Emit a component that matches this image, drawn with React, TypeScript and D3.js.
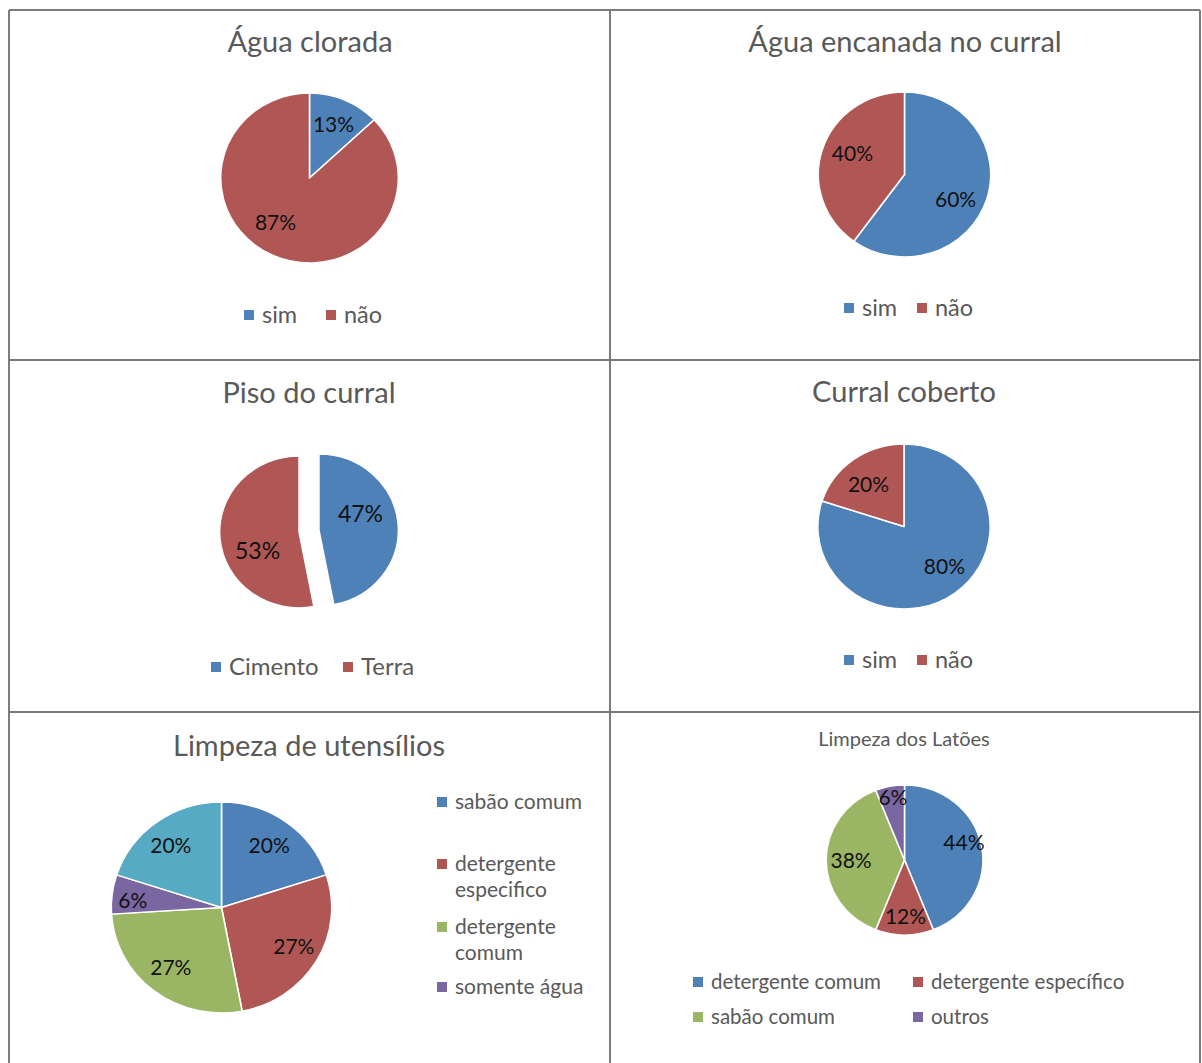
import React from "react";
import * as d3 from "d3";

// ---------- DATA ----------
const aguaCloradaCats = ["sim", "não"];
const aguaCloradaVals = [13, 87];

const aguaEncanadaCats = ["sim", "não"];
const aguaEncanadaVals = [60, 40];

const pisoCats = ["Cimento", "Terra"];
const pisoVals = [47, 53];

const curralCobertoCats = ["sim", "não"];
const curralCobertoVals = [80, 20];

const utensiliosCats = ["sabão comum", "detergente especifico", "detergente comum", "somente água", "outros"];
const utensiliosVals = [20, 27, 27, 6, 20];

const latoesCats = ["detergente comum", "detergente específico", "sabão comum", "outros"];
const latoesVals = [44, 12, 38, 6];

const titles = [
  "Água clorada",
  "Água encanada no curral",
  "Piso do curral",
  "Curral coberto",
  "Limpeza de utensílios",
  "Limpeza dos Latões",
];

// ---------- STYLE ----------
const BLUE = "#4f81b9";
const RED = "#b05755";
const GREEN = "#9ab664";
const PURPLE = "#7a66a0";
const TEAL = "#56aac4";
const FONT = "Lato, 'Open Sans', sans-serif";
const TITLE_COLOR = "#595959";
const LEGEND_COLOR = "#595959";
const SX = 1.045; // horizontal stretch of the original

type Panel = {
  title: string;
  titleX: number;
  titleY: number;
  titleSize: number;
  cats: string[];
  vals: number[];
  colors: string[];
  cx: number;
  cy: number;
  r: number;
  labelF: number;
  labelSize: number;
  nudge: [number, number][];
  explode?: number;
  legend: { x: number; y: number; wrap?: boolean }[];
  legendText: number;
};

const panels: Panel[] = [
  {
    title: titles[0], titleX: 310, titleY: 52, titleSize: 29,
    cats: aguaCloradaCats, vals: aguaCloradaVals, colors: [BLUE, RED],
    cx: 309.5, cy: 178, r: 85, labelF: 0.68, labelSize: 21,
    nudge: [[0, 0], [-10, -8]],
    legend: [{ x: 244, y: 315 }, { x: 326, y: 315 }], legendText: 23.5,
  },
  {
    title: titles[1], titleX: 905, titleY: 52, titleSize: 29,
    cats: aguaEncanadaCats, vals: aguaEncanadaVals, colors: [BLUE, RED],
    cx: 904.5, cy: 174.5, r: 82.5, labelF: 0.66, labelSize: 21,
    nudge: [[-3, 8], [2, -4]],
    legend: [{ x: 844, y: 308 }, { x: 917, y: 308 }], legendText: 23.5,
  },
  {
    title: titles[2], titleX: 309, titleY: 403, titleSize: 29,
    cats: pisoCats, vals: pisoVals, colors: [BLUE, RED],
    cx: 309, cy: 531, r: 76, labelF: 0.55, labelSize: 23, explode: 10,
    nudge: [[-2, -12], [2, 15]],
    legend: [{ x: 211, y: 667 }, { x: 343, y: 667 }], legendText: 24,
  },
  {
    title: titles[3], titleX: 904, titleY: 402, titleSize: 29,
    cats: curralCobertoCats, vals: curralCobertoVals, colors: [BLUE, RED],
    cx: 904, cy: 526.5, r: 82.5, labelF: 0.68, labelSize: 21,
    nudge: [[6, -5], [-1, 4]],
    legend: [{ x: 844, y: 660 }, { x: 917, y: 660 }], legendText: 23.5,
  },
  {
    title: titles[4], titleX: 309, titleY: 756, titleSize: 29,
    cats: utensiliosCats, vals: utensiliosVals, colors: [BLUE, RED, GREEN, PURPLE, TEAL],
    cx: 221.5, cy: 907.5, r: 105.5, labelF: 0.72, labelSize: 21,
    nudge: [[1, 0], [4, 0], [-2, 0], [-10, 3], [-4, 0]],
    legend: [
      { x: 437, y: 802 },
      { x: 437, y: 864, wrap: true },
      { x: 437, y: 927, wrap: true },
      { x: 437, y: 987 },
    ],
    legendText: 21,
  },
  {
    title: titles[5], titleX: 904, titleY: 746, titleSize: 20,
    cats: latoesCats, vals: latoesVals, colors: [BLUE, RED, GREEN, PURPLE],
    cx: 904.5, cy: 860, r: 75, labelF: 0.72, labelSize: 21,
    nudge: [[4, -7], [1, 3], [3, 1], [-1, -9]],
    legend: [
      { x: 693, y: 982 },
      { x: 913, y: 982 },
      { x: 693, y: 1017 },
      { x: 913, y: 1017 },
    ],
    legendText: 20.5,
  },
];

function PiePanel({ p }: { p: Panel }) {
  const arcs = d3.pie<number>().sort(null).value((d) => d)(p.vals);
  const arc = d3.arc<d3.PieArcDatum<number>>().innerRadius(0).outerRadius(p.r);
  const lr = p.r * p.labelF;
  const labelArc = d3.arc<d3.PieArcDatum<number>>().innerRadius(lr).outerRadius(lr);
  return (
    <g>
      <text
        x={p.titleX}
        y={p.titleY}
        textAnchor="middle"
        fontSize={p.titleSize}
        fill={TITLE_COLOR}
        fontFamily={FONT}
      >
        {p.title}
      </text>
      {arcs.map((a, i) => {
        const mid = (a.startAngle + a.endAngle) / 2;
        const ex = p.explode || 0;
        const dx = Math.sin(mid) * ex;
        const dy = -Math.cos(mid) * ex;
        return (
          <path
            key={"s" + i}
            d={arc(a) || ""}
            transform={`translate(${p.cx + dx},${p.cy + dy}) scale(${SX},1)`}
            fill={p.colors[i]}
            stroke="#ffffff"
            strokeWidth={1.5}
            strokeLinejoin="round"
          />
        );
      })}
      {arcs.map((a, i) => {
        const mid = (a.startAngle + a.endAngle) / 2;
        const ex = p.explode || 0;
        const dx = Math.sin(mid) * ex;
        const dy = -Math.cos(mid) * ex;
        const [lx, ly] = labelArc.centroid(a);
        const [nx, ny] = p.nudge[i] || [0, 0];
        return (
          <text
            key={"l" + i}
            x={p.cx + dx + lx * SX + nx}
            y={p.cy + dy + ly + ny}
            dy="0.35em"
            textAnchor="middle"
            fontSize={p.labelSize}
            fill="#111"
            fontFamily={FONT}
          >
            {`${p.vals[i]}%`}
          </text>
        );
      })}
      {p.legend.map((lg, i) => {
        const name = p.cats[i];
        const lines = lg.wrap ? [name.slice(0, name.indexOf(" ")), name.slice(name.indexOf(" ") + 1)] : [name];
        return (
          <g key={"g" + i}>
            <rect x={lg.x} y={lg.y - 5} width={10} height={10} fill={p.colors[i]} />
            {lines.map((t, j) => (
              <text
                key={j}
                x={lg.x + 18}
                y={lg.y + j * 26}
                dy="0.35em"
                fontSize={p.legendText}
                fill={LEGEND_COLOR}
                fontFamily={FONT}
              >
                {t}
              </text>
            ))}
          </g>
        );
      })}
    </g>
  );
}

export default function App() {
  const W = 1202;
  const H = 1063;
  const border = "#7c7c7c";
  return (
    <svg
      width={W}
      height={H}
      style={{ position: "absolute", left: 0, top: 0, background: "#fff" }}
    >
      <rect x={0} y={0} width={W} height={H} fill="#ffffff" />
      {/* table grid */}
      <line x1={9} y1={10} x2={1200} y2={10} stroke={border} strokeWidth={2} />
      <line x1={9} y1={360} x2={1200} y2={360} stroke={border} strokeWidth={2} />
      <line x1={9} y1={712} x2={1200} y2={712} stroke={border} strokeWidth={2} />
      <line x1={9} y1={10} x2={9} y2={H} stroke={border} strokeWidth={2} />
      <line x1={610} y1={10} x2={610} y2={H} stroke={border} strokeWidth={2} />
      <line x1={1200} y1={10} x2={1200} y2={H} stroke={border} strokeWidth={2} />
      {panels.map((p, i) => (
        <PiePanel key={i} p={p} />
      ))}
    </svg>
  );
}
